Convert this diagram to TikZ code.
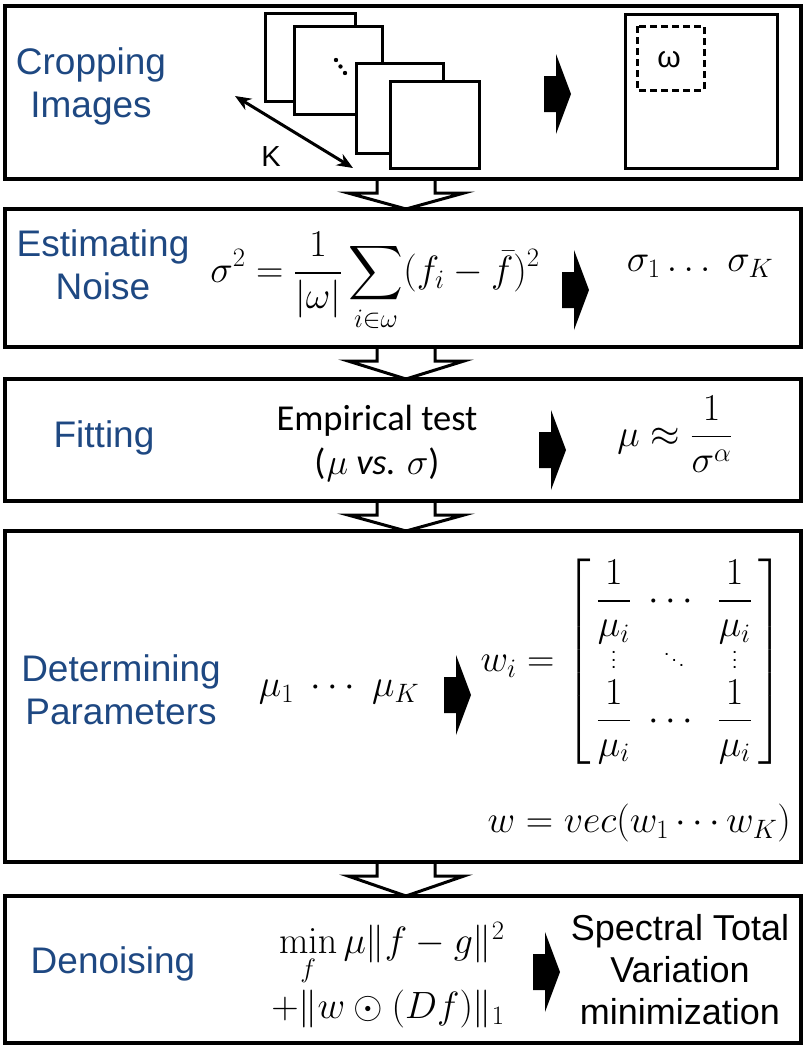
\RequirePackage{fix-cm}
\documentclass[tikz,border=0pt]{standalone}
\usepackage{amsmath}
\usepackage{graphicx}
\usepackage[no-math]{fontspec}
\DeclareFontFamily{OMX}{cmex}{}
\DeclareFontShape{OMX}{cmex}{m}{n}{<-> cmex10}{}
\setmainfont{Liberation Sans}
\newfontfamily\calib{Carlito}
\definecolor{lblue}{RGB}{30,72,130}
\usetikzlibrary{calc,arrows.meta}
\newcommand{\bigvdots}{\raisebox{2pt}{\scalebox{1.9}{\fontsize{10}{12}\selectfont$\vdots$}}}
\newcommand{\bigddots}{\raisebox{2pt}{\scalebox{1.9}{\fontsize{10}{12}\selectfont$\ddots$}}}
% black block arrow: left x, centre y
\newcommand{\blkarrow}[2]{\fill (#1,#2-18) -- (#1+12,#2-18) -- (#1+12,#2-40) -- (#1+27,#2) -- (#1+12,#2+40) -- (#1+12,#2+18) -- (#1,#2+18) -- cycle;}
% hollow arrow between two panels
\newcommand{\hollowarr}[2]{\draw[line width=3pt, line join=miter]
  ($(#1.south)+(-26,0)$) -- ($(#1.south)+(-26,14)$) -- ($(#1.south)+(-55,14)$) --
  ($(#2.north)+(3,0)$) -- ($(#1.south)+(61,14)$) -- ($(#1.south)+(32,14)$) -- ($(#1.south)+(32,0)$);}
\begin{document}
\begin{tikzpicture}[x=1pt,y=-1pt,
  panel/.style={draw, line width=4pt, inner sep=0pt, outer sep=0pt, minimum width=796pt},
  lbl/.style={text=lblue, font=\fontsize{37}{43}\selectfont, align=center, inner sep=0pt},
  mth/.style={font=\fontsize{38}{44}\selectfont, inner sep=0pt},
  txt/.style={font=\fontsize{36}{42}\selectfont, align=center, inner sep=0pt},
  img/.style={draw, fill=white, line width=3pt},
]
\useasboundingbox (0,0) rectangle (807,1050);
% panels
\node[panel, minimum height=173pt] (p1) at (403,92.5) {};
\node[panel, minimum height=138pt] (p2) at (403,278) {};
\node[panel, minimum height=122pt] (p3) at (403,440) {};
\node[panel, minimum height=331pt] (p4) at (403,696.5) {};
\node[panel, minimum height=147pt] (p5) at (403,969.5) {};
% hollow arrows
\hollowarr{p1}{p2}
\hollowarr{p2}{p3}
\hollowarr{p3}{p4}
\hollowarr{p4}{p5}

% ---- panel 1
\node[lbl] (l1) at (91,86) {Cropping\\Images};
\draw[img] (265,13) rectangle (355,101);
\draw[img] (294,26) rectangle (382,114);
\draw[img] (356,63) rectangle (443,153);
\draw[img] (390,81) rectangle (479,168);
\fill (336,60) circle (2.2) (340.5,66.5) circle (2.2) (345,73) circle (2.2);
\coordinate (ka) at (235,96);
\coordinate (kb) at (353,168);
\draw[line width=3pt, {Stealth[length=16pt,width=13pt]}-{Stealth[length=16pt,width=13pt]}] (ka) -- (kb);
\node[font=\fontsize{29}{32}\selectfont, inner sep=0pt] (K) at (271,157) {K};
\blkarrow{544}{94}
\draw[line width=3pt] (625,14) rectangle (777,168);
\draw[line width=3pt, dash pattern=on 7pt off 4pt] (637,26) rectangle (704,90);
\node[font=\fontsize{30}{34}\selectfont, inner sep=0pt] (om) at (669,60) {ω};

% ---- panel 2
\node[lbl] (l2) at (103,265) {Estimating\\Noise};
\node[mth] (f2) at (375,282) {$\displaystyle\sigma^2=\frac{1}{|\omega|}\sum_{i\in\omega}(f_i-\bar{f})^2$};
\blkarrow{562}{290}
\node[mth] (s2) at (700,266) {$\sigma_1\ldots\ \sigma_K$};

% ---- panel 3
\node[lbl] (l3) at (104,438) {Fitting};
\node[font=\fontsize{36.5}{44}\selectfont\calib, align=center, inner sep=0pt] (e3) at (377,443)
  {Empirical test\\(\kern1pt$\mu$ \textit{vs.} $\sigma$)};
\blkarrow{539}{450}
\node[mth] (m3) at (675,434) {$\displaystyle\mu\approx\frac{1}{\sigma^\alpha}$};

% ---- panel 4
\node[lbl] (l4) at (121,690) {Determining\\Parameters};
\node[mth] (mu4) at (339,692) {$\mu_1\ \cdots\ \mu_K$};
\blkarrow{444}{695}
\node[mth] (w4) at (632,662) {\setlength\arraycolsep{9pt}$w_i=\left[\,\begin{matrix}\dfrac{1}{\mu_i} & \cdots & \dfrac{1}{\mu_i}\\[-4pt] \bigvdots & \bigddots & \bigvdots\\[-4pt] \dfrac{1}{\mu_i} & \cdots & \dfrac{1}{\mu_i}\end{matrix}\,\right]$};
\node[mth, anchor=east] (v4) at (791,823) {$w=vec(w_1\cdots w_K)$};

% ---- panel 5
\node[lbl] (l5) at (113,964) {Denoising};
\node[mth, align=right] (f5) at (388,975) {$\min\limits_f\mu\|f-g\|^2$\\[2pt]$+\|w\odot(Df)\|_1$};
\blkarrow{533}{972}
\node[txt] (s5) at (680,970) {Spectral Total\\Variation\\minimization};
\end{tikzpicture}
\end{document}
